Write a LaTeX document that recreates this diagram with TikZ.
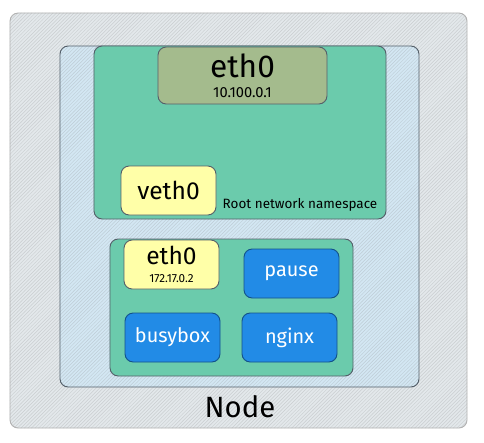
\documentclass[tikz,border=0pt]{standalone}
\usepackage{fontspec}
\setmainfont{Fira Sans}
\usepackage{xcolor}
\usepackage{tikz}
\usetikzlibrary{patterns}
\usetikzlibrary{positioning,calc}

\definecolor{nodegray}{HTML}{E3E8EB}
\definecolor{hostblue}{HTML}{D3E7F3}
\definecolor{nsgreen}{HTML}{6BCBAC}
\definecolor{ifolive}{HTML}{A4BB8D}
\definecolor{ifyellow}{HTML}{FFFFA8}
\definecolor{ctrblue}{HTML}{228BE6}
\definecolor{edgegray}{HTML}{55606A}

\begin{document}
\begin{tikzpicture}[x=0.03cm,y=-0.03cm,
		box/.style={draw=edgegray, line width=0.8pt, rounded corners=7pt, inner sep=0pt},
		hatched/.style={preaction={fill=#1}, pattern=north east lines, pattern color=#1!75!gray},
		iface/.style={box, fill=ifyellow, minimum width=2.85cm, minimum height=1.47cm},
		ctr/.style={box, draw=ctrblue!60!black, fill=ctrblue, text=white, font=\fontsize{17}{17}\selectfont, minimum width=2.85cm, minimum height=1.47cm}]
			\useasboundingbox (0,0) rectangle (484,442);
			\node[box, draw=gray!60, hatched=nodegray, minimum width=13.71cm, minimum height=12.45cm] (node) at (238.5,220.5) {};
			\node[box, hatched=hostblue, minimum width=10.77cm, minimum height=10.23cm] (host) at (239.5,216.5) {};
			\node[box, fill=nsgreen, minimum width=8.76cm, minimum height=5.19cm] (rootns) at (240,132.5) {};
			\node[box, fill=ifolive, minimum width=5.07cm, minimum height=1.71cm, align=center] (eth) at (242.5,75.5) {{\fontsize{27}{24}\selectfont eth0}\\[5pt]{\fontsize{12.5}{12}\selectfont 10.100.0.1}};
			\node[iface, font=\fontsize{21}{21}\selectfont] (veth) at (168.5,190.5) {veth0};
			\node[font=\fontsize{11.5}{12}\selectfont] (rootlabel) at (300,205) {Root network namespace};
			\node[box, fill=nsgreen, minimum width=7.29cm, minimum height=4.11cm] (pod) at (231.5,307.5) {};
			\node[iface, align=center] (podeth) at (171.5,264.5) {{\fontsize{21}{18}\selectfont eth0}\\[3pt]{\fontsize{10}{10}\selectfont 172.17.0.2}};
			\node[ctr] (pause) at (291.5,273.5) {pause};
			\node[ctr] (busybox) at (172.5,337.5) {busybox};
			\node[ctr] (nginx) at (289.5,337.5) {nginx};
			\node[font=\fontsize{25}{25}\selectfont] (nodelabel) at (240,407) {Node};
			\draw[line width=0.9pt] ($(veth.south)+(1.5,0)$) -- ($(veth.south)+(1.5,0)$ |- podeth.north);
		\end{tikzpicture}
\end{document}
